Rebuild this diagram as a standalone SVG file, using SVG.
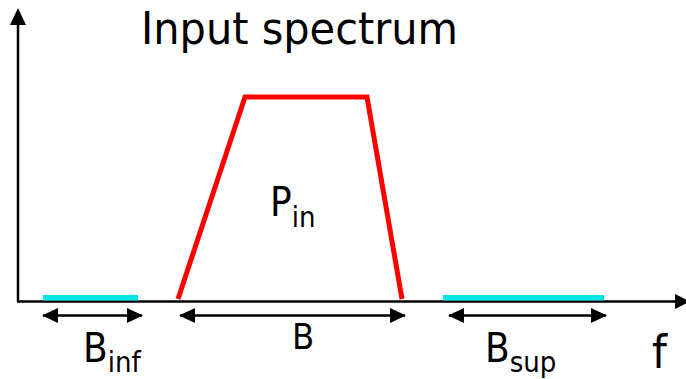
<svg xmlns="http://www.w3.org/2000/svg" width="686" height="379" viewBox="0 0 686 379">
<style>
.t{font-family:"DejaVu Sans Condensed","DejaVu Sans",sans-serif;font-stretch:condensed;fill:#000}
.ax{stroke:#000;stroke-width:2.5;fill:none}
.dim{stroke:#000;stroke-width:2.5;fill:none;marker-start:url(#ah);marker-end:url(#ah)}
.band{fill:#00e5e5}
</style>
<defs>
<marker id="ah" viewBox="0 0 16 15" refX="15" refY="7.5" markerWidth="16" markerHeight="15" markerUnits="userSpaceOnUse" orient="auto-start-reverse">
<path d="M0,0 L16,7.5 L0,15 Z" fill="#000"/>
</marker>
</defs>
<rect width="686" height="379" fill="#fff"/>
<g id="axes">
<line class="ax" x1="18" y1="301.5" x2="18" y2="22"/>
<path d="M10,25 L18,8 L26,25 Z" fill="#000"/>
<line class="ax" x1="17" y1="301.5" x2="678" y2="301.5"/>
<path d="M675,294 L690,301.5 L675,309 Z" fill="#000"/>
</g>
<g id="bands">
<rect class="band" x="43" y="295" width="95" height="5.5"/>
<rect class="band" x="443" y="295" width="161" height="5.5"/>
</g>
<g id="spectrum">
<polyline points="178,299 245,97 367,97 402,299" fill="none" stroke="#ff0000" stroke-width="5" stroke-linejoin="miter"/>
</g>
<g id="connectors">
<line class="dim" x1="43" y1="315.5" x2="142" y2="315.5"/>
<line class="dim" x1="180" y1="315.5" x2="405" y2="315.5"/>
<line class="dim" x1="449" y1="315.5" x2="606" y2="315.5"/>
</g>
<g id="labels">
<text class="t" x="141" y="44" font-size="45" textLength="317" lengthAdjust="spacingAndGlyphs">Input spectrum</text>
<text class="t" x="270" y="216" font-size="40">P<tspan font-size="29" dy="11">in</tspan></text>
<text class="t" x="83" y="362" font-size="40">B<tspan font-size="29" dy="10">inf</tspan></text>
<text class="t" x="292" y="349" font-size="36">B</text>
<text class="t" x="485" y="362" font-size="40">B<tspan font-size="29" dy="10">sup</tspan></text>
<text class="t" x="652" y="368" font-size="47">f</text>
</g>
</svg>
